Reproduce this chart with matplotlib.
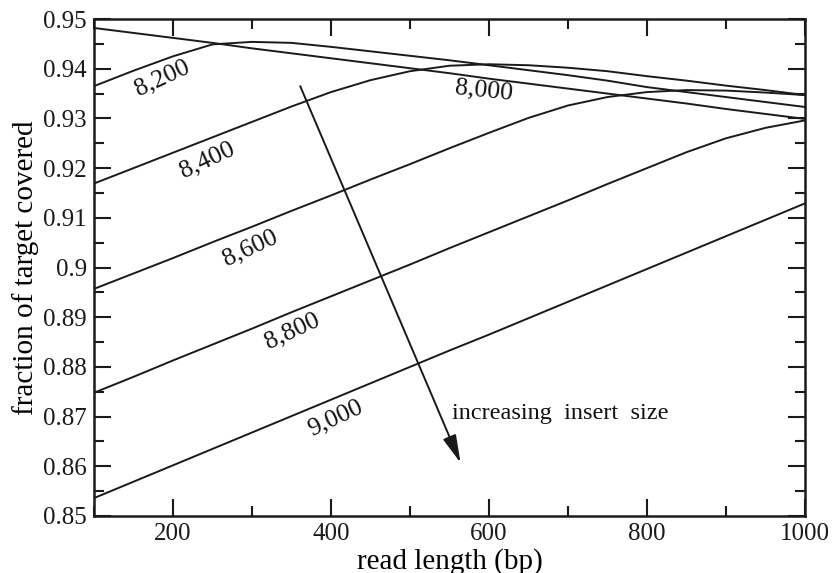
import matplotlib
matplotlib.use("Agg")
import matplotlib.pyplot as plt
from matplotlib.ticker import MultipleLocator, FixedLocator

plt.rcParams['font.family'] = ['Liberation Serif', 'DejaVu Serif']

# ---- data ----
read_length = [100, 150, 200, 250, 300, 350, 400, 450, 500, 550,
               600, 650, 700, 750, 800, 850, 900, 950, 1000]

cov_8000 = [0.9482, 0.9472, 0.9462, 0.9452, 0.9441, 0.9431, 0.9421, 0.9411, 0.9401, 0.9391,
            0.9380, 0.9370, 0.9360, 0.9350, 0.9340, 0.9330, 0.9319, 0.9309, 0.9299]
cov_8200 = [0.9365, 0.9396, 0.9425, 0.9449, 0.9454, 0.9452, 0.9444, 0.9435, 0.9426, 0.9417,
            0.9407, 0.9397, 0.9387, 0.9376, 0.9363, 0.9353, 0.9343, 0.9333, 0.9323]
cov_8400 = [0.9169, 0.9200, 0.9231, 0.9262, 0.9293, 0.9324, 0.9353, 0.9377, 0.9395, 0.9406,
            0.9409, 0.9407, 0.9402, 0.9395, 0.9385, 0.9376, 0.9366, 0.9357, 0.9347]
cov_8600 = [0.8957, 0.8988, 0.9019, 0.9051, 0.9082, 0.9114, 0.9145, 0.9177, 0.9208, 0.9240,
            0.9271, 0.9301, 0.9326, 0.9343, 0.9353, 0.9357, 0.9356, 0.9352, 0.9347]
cov_8800 = [0.8748, 0.8780, 0.8813, 0.8845, 0.8877, 0.8910, 0.8942, 0.8974, 0.9006, 0.9039,
            0.9071, 0.9103, 0.9135, 0.9168, 0.9200, 0.9232, 0.9260, 0.9281, 0.9296]
cov_9000 = [0.8536, 0.8569, 0.8602, 0.8635, 0.8668, 0.8701, 0.8734, 0.8767, 0.8800, 0.8833,
            0.8865, 0.8898, 0.8931, 0.8964, 0.8997, 0.9030, 0.9063, 0.9096, 0.9129]

series = [cov_8000, cov_8200, cov_8400, cov_8600, cov_8800, cov_9000]
series_labels = ["8,000", "8,200", "8,400", "8,600", "8,800", "9,000"]
# label anchor positions (x in bp, y in coverage) and rotations
label_x = [593, 187, 243, 298, 351, 405]
label_y = [0.9357, 0.9381, 0.9216, 0.9039, 0.8872, 0.8697]
label_rot = [-6, 25, 25, 25, 25, 25]

x_ticks = [200, 400, 600, 800, 1000]
y_ticks = [0.85, 0.86, 0.87, 0.88, 0.89, 0.90, 0.91, 0.92, 0.93, 0.94, 0.95]
y_tick_labels = ["0.85", "0.86", "0.87", "0.88", "0.89", "0.9",
                 "0.91", "0.92", "0.93", "0.94", "0.95"]

arrow_start = (361, 0.9365)
arrow_end = (564, 0.8607)
arrow_text = "increasing  insert  size"

# ---- figure ----
fig = plt.figure(figsize=(8.32, 5.73), dpi=100)
ax = fig.add_axes([0.113, 0.0995, 0.8545, 0.8673])

line_color = '#1a1a1a'
for vals in series:
    ax.plot(read_length, vals, color=line_color, lw=1.4, solid_joinstyle='round')

for txt, lx, ly, rot in zip(series_labels, label_x, label_y, label_rot):
    ax.text(lx, ly, txt, fontsize=18.5, rotation=rot, ha='center', va='center',
            rotation_mode='anchor', color='#111111')

ax.annotate("", xy=arrow_end, xytext=arrow_start,
            arrowprops=dict(arrowstyle='-|>,head_length=1.7,head_width=0.42',
                            color=line_color, lw=1.4, shrinkA=0, shrinkB=0))
ax.text(553, 0.8707, arrow_text, fontsize=17.5, ha='left', va='center', color='#111111')

ax.set_xlim(100, 1000)
ax.set_ylim(0.85, 0.95)
ax.xaxis.set_major_locator(FixedLocator(x_ticks))
ax.xaxis.set_minor_locator(MultipleLocator(100))
ax.yaxis.set_major_locator(FixedLocator(y_ticks))
ax.set_yticklabels(y_tick_labels)
ax.yaxis.set_minor_locator(MultipleLocator(0.005))

ax.tick_params(which='both', direction='in', top=True, right=True,
               colors='#1a1a1a', labelsize=18)
ax.tick_params(which='major', length=12, width=1.5, pad=5)
ax.tick_params(which='minor', length=7.5, width=1.5)
ax.tick_params(axis='x', which='major', pad=5)

for sp in ax.spines.values():
    sp.set_linewidth(1.8)
    sp.set_color('#1a1a1a')

ax.set_xlabel("read length (bp)", fontsize=21, labelpad=2)
ax.set_ylabel("fraction of target covered", fontsize=21, labelpad=3)

fig.savefig("out.png", dpi=100)
